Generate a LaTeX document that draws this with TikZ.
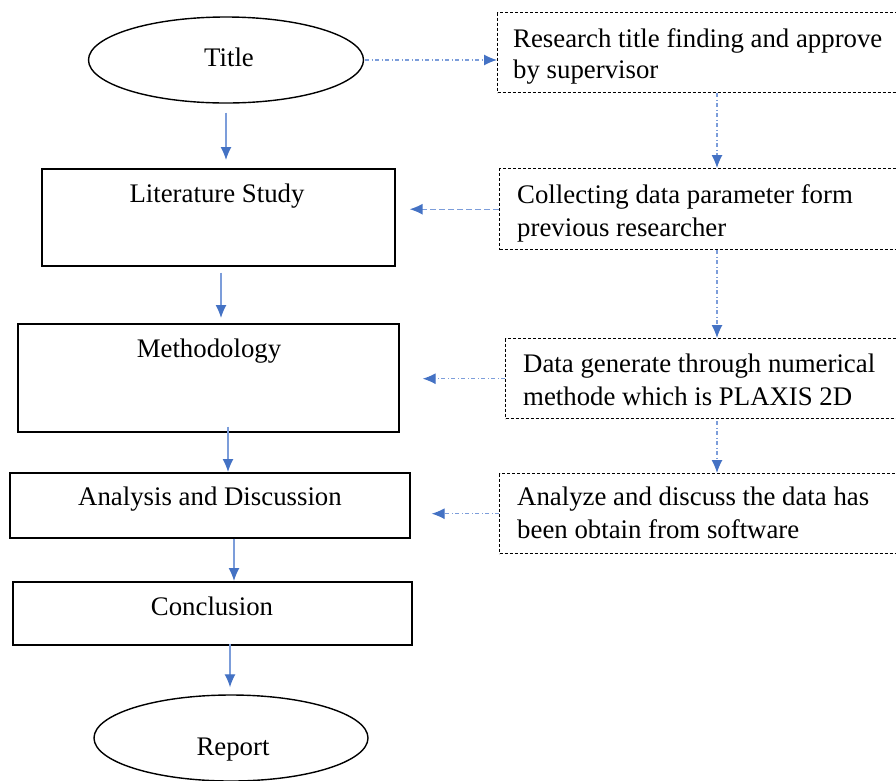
\documentclass[tikz,border=0pt]{standalone}
\usepackage{fontspec}
\setmainfont{Liberation Serif}
\usetikzlibrary{shapes.geometric,arrows.meta}
\definecolor{lineblue}{HTML}{7C9DDA}
\definecolor{tipblue}{HTML}{4472C4}
\begin{document}
\begin{tikzpicture}[x=1pt,y=-1pt,
  font=\fontsize{26.8}{32}\selectfont,
  flowbox/.style={draw, line width=1.6pt, rectangle, inner sep=0pt, anchor=north west},
  oval/.style={draw, line width=1.4pt, ellipse, inner sep=0pt},
  sidebox/.style={draw, line width=1.4pt, dash pattern=on 3pt off 2pt, rectangle, inner sep=0pt, anchor=north west, minimum width=430pt},
  lbl/.style={anchor=base, inner sep=0pt},
  sidetext/.style={anchor=base west, inner sep=0pt, align=left},
  solidarrow/.style={draw=lineblue, line width=1.3pt, -{Latex[length=13pt,width=11pt,color=tipblue]}},
  dasharrow/.style={draw=lineblue, line width=1.3pt, dash pattern=on 6pt off 3pt, -{Latex[length=13pt,width=11pt,color=tipblue]}},
  dotarrow/.style={draw=lineblue, line width=1.2pt, dash pattern=on 4pt off 2.5pt on 1pt off 2.5pt, -{Latex[length=13pt,width=11pt,color=tipblue]}}
]
\useasboundingbox (0,0) rectangle (896,780);

% left column
\node[oval, minimum width=275pt, minimum height=86pt] (title) at (226,60) {};
\node[lbl] (titletext) at (229,66) {Title};

\node[flowbox, minimum width=353pt, minimum height=97pt] (lit) at (41,168) {};
\node[lbl] (littext) at (217,202) {Literature Study};

\node[flowbox, minimum width=381pt, minimum height=108pt] (meth) at (17,323) {};
\node[lbl] (methtext) at (209,357) {Methodology};

\node[flowbox, minimum width=400pt, minimum height=65pt] (anal) at (9,472) {};
\node[lbl] (analtext) at (210,505) {Analysis and Discussion};

\node[flowbox, minimum width=399pt, minimum height=63pt] (concl) at (12,581) {};
\node[lbl] (concltext) at (212,615) {Conclusion};

\node[oval, minimum width=274pt, minimum height=86pt] (report) at (231,738) {};
\node[lbl] (reporttext) at (233,755) {Report};

% right column
\node[sidebox, minimum height=80pt] (r1) at (497,12) {};
\node[sidetext] (r1text) at (513,47) {Research title finding and approve};
\node[sidetext] (r1textb) at (513,78) {by supervisor};

\node[sidebox, minimum height=81pt] (r2) at (499,168) {};
\node[sidetext] (r2text) at (517,203) {Collecting data parameter form};
\node[sidetext] (r2textb) at (517,236) {previous researcher};

\node[sidebox, minimum height=80pt] (r3) at (505,338) {};
\node[sidetext] (r3text) at (523,372) {Data generate through numerical};
\node[sidetext] (r3textb) at (523,405) {methode which is PLAXIS 2D};

\node[sidebox, minimum height=80pt] (r4) at (499,473) {};
\node[sidetext] (r4text) at (517,505) {Analyze and discuss the data has};
\node[sidetext] (r4textb) at (517,538) {been obtain from software};

% helper coordinates for arrow columns
\coordinate (cr) at (717,0);
\coordinate (c2) at (221,0);
\coordinate (c3) at (228,0);
\coordinate (c4) at (234,0);
\coordinate (c5) at (230,0);

% left arrows
\draw[solidarrow, shorten <=9pt, shorten >=8pt] (title.south) -- (title.south |- lit.north);
\draw[solidarrow, shorten <=6pt, shorten >=5pt] (lit.south -| c2) -- (meth.north -| c2);
\draw[solidarrow, shorten <=-6pt, shorten >=0pt] (meth.south -| c3) -- (anal.north -| c3);
\draw[solidarrow, shorten <=0pt, shorten >=0pt] (anal.south -| c4) -- (concl.north -| c4);
\draw[solidarrow, shorten <=-2pt, shorten >=7pt] (concl.south -| c5) -- (report.north -| c5);

% right arrows
\draw[dotarrow, shorten <=1pt] (title.east) -- (r1.west |- title.east);
\draw[dotarrow] (r1.south -| cr) -- (r2.north -| cr);
\draw[dotarrow] (r2.south -| cr) -- (r3.north -| cr);
\draw[dotarrow, shorten <=2pt] (r3.south -| cr) -- (r4.north -| cr);

\draw[dasharrow, shorten >=14pt] (r2.west) -- (lit.east |- r2.west);
\draw[dotarrow, shorten >=23pt] (r3.west) -- (meth.east |- r3.west);
\draw[dotarrow, shorten >=21pt] (r4.west) -- (anal.east |- r4.west);
\end{tikzpicture}
\end{document}
